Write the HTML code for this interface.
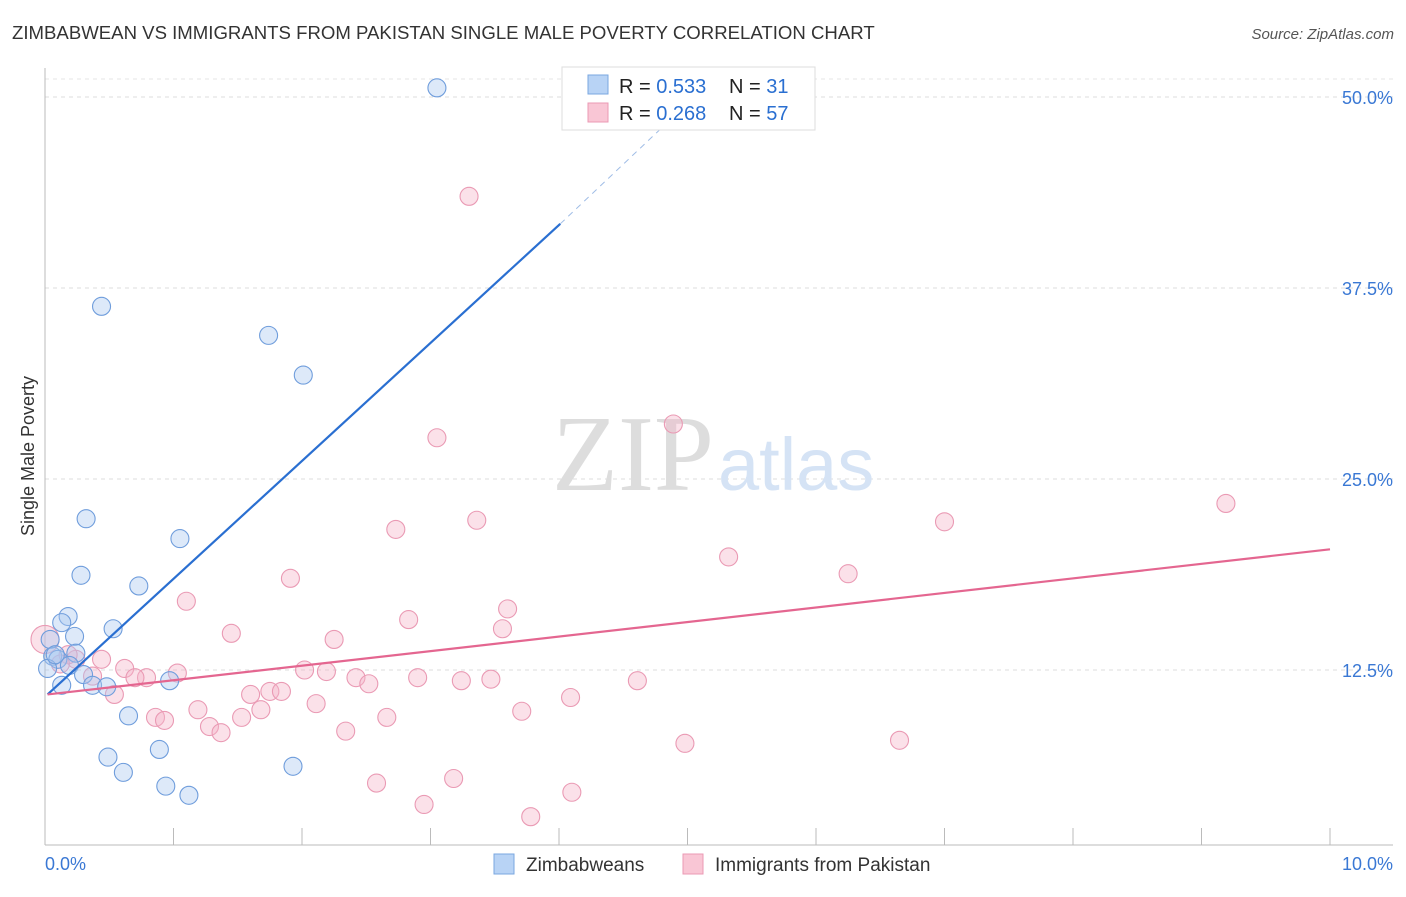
<!DOCTYPE html>
<html><head><meta charset="utf-8"><style>
body{margin:0;background:#fff;font-family:"Liberation Sans",sans-serif}
svg text{font-family:"Liberation Sans",sans-serif}
</style></head><body>
<svg id="chart" width="1406" height="892">
<text x="12" y="39" font-size="18.6" fill="#333">ZIMBABWEAN VS IMMIGRANTS FROM PAKISTAN SINGLE MALE POVERTY CORRELATION CHART</text>
<text x="1394" y="39" font-size="15" fill="#555" font-style="italic" text-anchor="end">Source: ZipAtlas.com</text>
<text x="34" y="456" font-size="18" fill="#333" text-anchor="middle" transform="rotate(-90 34 456)">Single Male Poverty</text>
<g id="grid"></g>
<text x="714" y="490" font-size="108" fill="#ddd" text-anchor="end" style="font-family:'Liberation Serif',serif">ZIP</text>
<text x="718" y="490" font-size="74" fill="#d5e3f5">atlas</text>
<g id="pts"></g>
<g id="lines"></g>
<g>
<rect x="562" y="67" width="253" height="63" fill="#fff" stroke="#ddd"/>
<rect x="588" y="75" width="20" height="19" fill="#b8d3f5" stroke="#7aa7e0"/>
<rect x="588" y="103" width="20" height="19" fill="#f9c6d5" stroke="#eb9ab4"/>
<text x="619" y="93" font-size="20" fill="#222">R = <tspan fill="#2a6fd1">0.533</tspan></text>
<text x="729" y="93" font-size="20" fill="#222">N = <tspan fill="#2a6fd1"> 31</tspan></text>
<text x="619" y="120" font-size="20" fill="#222">R = <tspan fill="#2a6fd1">0.268</tspan></text>
<text x="729" y="120" font-size="20" fill="#222">N = <tspan fill="#2a6fd1">57</tspan></text>
</g>
<g>
<rect x="494" y="854" width="20" height="20" fill="#b8d3f5" stroke="#7aa7e0"/>
<text x="526" y="871" font-size="19" fill="#333">Zimbabweans</text>
<rect x="683" y="854" width="20" height="20" fill="#f9c6d5" stroke="#eb9ab4"/>
<text x="715" y="871" font-size="19" fill="#333">Immigrants from Pakistan</text>
</g>
<text x="45" y="870" font-size="18" fill="#3a78d4">0.0%</text>
<text x="1393" y="870" font-size="18" fill="#3a78d4" text-anchor="end">10.0%</text>
</svg>
<script>
const yTicks=[12.5,25,37.5,50];
const yTickLabels=["12.5%","25.0%","37.5%","50.0%"];
const xTicks=[1,2,3,4,5,6,7,8,9,10];
const blueX=[3.05,0.44,1.74,2.01,0.32,1.05,0.28,0.73,0.18,0.13,0.53,0.23,0.04,0.06,0.24,0.10,0.19,0.30,0.13,0.37,0.48,0.97,0.65,0.89,0.49,0.61,0.94,1.12,1.93,0.02,0.08];
const blueY=[50.6,36.3,34.4,31.8,22.4,21.1,18.7,18.0,16.0,15.6,15.2,14.7,14.5,13.4,13.6,13.2,12.8,12.2,11.5,11.5,11.4,11.8,9.5,7.3,6.8,5.8,4.9,4.3,6.2,12.6,13.5];
const pinkX=[3.30,3.05,4.89,9.19,7.00,3.36,2.73,5.32,6.25,1.91,1.10,3.60,2.83,3.56,1.45,2.25,0,0.44,0.24,0.18,0.62,2.02,2.19,1.03,0.79,0.70,2.42,2.90,0.37,2.52,3.24,3.47,4.61,1.60,1.75,1.84,0.54,1.19,2.11,1.68,4.09,3.71,0.86,0.93,1.53,2.66,1.28,1.37,2.34,4.98,6.65,2.58,3.18,2.95,4.10,3.78,0.12];
const pinkY=[43.5,27.7,28.6,23.4,22.2,22.3,21.7,19.9,18.8,18.5,17.0,16.5,15.8,15.2,14.9,14.5,14.5,13.2,13.2,13.5,12.6,12.5,12.4,12.3,12.0,12.0,12.0,12.0,12.1,11.6,11.8,11.9,11.8,10.9,11.1,11.1,10.9,9.9,10.3,9.9,10.7,9.8,9.4,9.2,9.4,9.4,8.8,8.4,8.5,7.7,7.9,5.1,5.4,3.7,4.5,2.9,12.9];
const blueLine=[[0.02,10.9],[4.01,41.7]];
const blueDash=[[4.01,41.7],[4.94,49.1]];
const pinkLine=[[0.02,10.9],[10,20.4]];
const NS="http://www.w3.org/2000/svg";
const sx=v=>45+v*128.5, sy=v=>861-v*15.28;
function mk(t,a,p){const e=document.createElementNS(NS,t);for(const k in a)e.setAttribute(k,a[k]);p.appendChild(e);return e;}
const g=document.getElementById('grid');
yTicks.forEach((v,i)=>{
 const l=mk('line',{x1:45,x2:1393,y1:sy(v),y2:sy(v),stroke:'#ddd','stroke-dasharray':'4,4'},g);
 
 
 const t=mk('text',{x:1393,y:sy(v)+7,'font-size':18,fill:'#3a78d4','text-anchor':'end'},g);
 t.textContent=yTickLabels[i];
 
 
});
const topLine=mk('line',{x1:45,x2:1393,y1:79,y2:79,stroke:'#e4e4e4','stroke-dasharray':'4,4'},g);


const ya=mk('line',{x1:45,x2:45,y1:68,y2:845,stroke:'#bbb'},g);


const xa=mk('line',{x1:45,x2:1393,y1:845,y2:845,stroke:'#bbb'},g);


xTicks.forEach(v=>{
 const l=mk('line',{x1:sx(v),x2:sx(v),y1:828,y2:845,stroke:'#bbb'},g);
 
 
});
const p=document.getElementById('pts');
function dots(X,Y,fill,stroke,name){
 X.forEach((x,i)=>{
  const big=(x===0);
  const c=mk('circle',{cx:sx(x),cy:sy(Y[i]),r:big?14:9,fill:fill,'fill-opacity':0.4,stroke:stroke,'stroke-width':1.1},p);
  
  
 });
}
dots(pinkX,pinkY,'#f5b3c8','#ea9ab4','point-pakistan');
dots(blueX,blueY,'#a9c8f0','#6f9ddc','point-zimbabwean');
const L=document.getElementById('lines');
function ln(pts,stroke,w,dash,name){
 const a={x1:sx(pts[0][0]),y1:sy(pts[0][1]),x2:sx(pts[1][0]),y2:sy(pts[1][1]),stroke:stroke,'stroke-width':w};
 if(dash)a['stroke-dasharray']=dash;
 const l=mk('line',a,L);
 
 
}
ln(blueLine,'#2a6fd1',2.2,null,'trend-line-zimbabweans');
ln(blueDash,'#a0bde6',1,'6,5','trend-line-zimbabweans-extension');
ln(pinkLine,'#e46690',2.2,null,'trend-line-pakistan');
</script>
</body></html>
